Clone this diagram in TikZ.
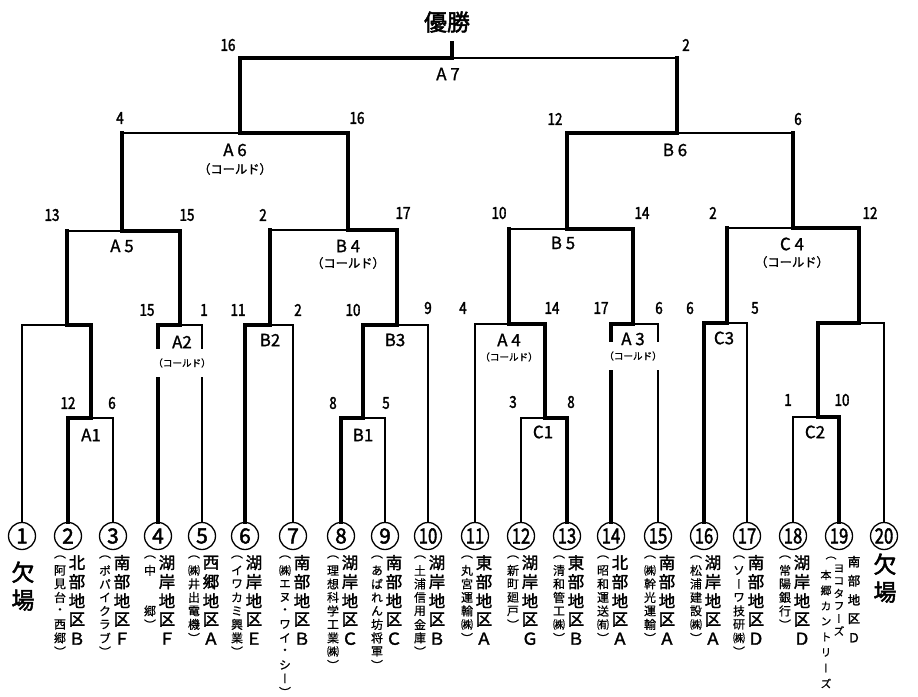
\documentclass[tikz,border=0pt]{standalone}
\usepackage{fontspec}
\usepackage{graphicx}
\setmainfont{Noto Sans CJK JP}
\newfontfamily\boldjp[FakeBold=2.2]{Noto Sans CJK JP}
\newfontfamily\medjp[FakeBold=1.2]{Noto Sans CJK JP}
\newfontfamily\numjp[FakeStretch=0.82,FakeBold=2]{Noto Sans CJK JP}
\newfontfamily\vjp[RawFeature=+vert,FakeBold=0.6]{Noto Sans CJK JP}
\newfontfamily\vjpb[RawFeature=+vert,FakeBold=1.8]{Noto Sans CJK JP}

% vertical text, one character per cell
\newdimen\cellh
\def\cellw{24bp}
\def\vstack#1{\vbox{\offinterlineskip\vstackdo#1\relax}}
\def\vstackdo#1{\ifx#1\relax\else
  \vbox to\cellh{\vss\hbox to\cellw{\hss#1\hss}\vss}\expandafter\vstackdo\fi}
\def\blank{\phantom{中}}
\newcommand\maincol[1]{\vjpb\fontsize{16.5}{19}\selectfont\cellh=19bp\relax
  \expandafter\vstack\expandafter{#1}}
\newcommand\subcol[1]{\vjp\fontsize{12}{14}\selectfont\cellh=13.5bp\relax
  \expandafter\vstack\expandafter{#1}}
% loser of a match that won the round before
\newcommand\lostat[2]{\draw[winline] (#1) -- (#1 |- #2);
  \draw[loseline] (#1 |- #2) -- (#2);}

\begin{document}
\begin{tikzpicture}[x=1bp, y=-1bp,
  winline/.style={line width=3.4bp, line cap=rect},
  loseline/.style={line width=1.2bp},
  leaf/.style={circle, draw, line width=1.3bp, minimum size=27bp, inner sep=0,
    font=\boldjp\fontsize{21}{21}\selectfont},
  score/.style={inner sep=0, font=\numjp\fontsize{16.5}{16.5}\selectfont},
  match/.style={inner sep=0, font=\medjp\fontsize{17}{17}\selectfont},
  cold/.style={inner sep=0, font=\medjp\fontsize{12.3}{12.3}\selectfont},
  coldsm/.style={fill=white, inner xsep=0, inner ysep=9bp, font=\medjp\fontsize{9.6}{9.6}\selectfont}]
  \useasboundingbox (0,0) rectangle (918,697);

  % Champion
  \node[inner sep=0, font=\boldjp\fontsize{23}{23}\selectfont] (champ) at (447,22) {優勝};
  \coordinate (win) at (452,43);

  % Teams
  \foreach \n/\x in {1/22,2/68,3/113,4/158,5/202,6/245,7/293,8/341,9/385,10/428,
      11/475,12/521,13/567,14/611,15/658,16/704,17/747,18/793,19/839,20/884}
    \node[leaf] (l\n) at (\x,536) {\ifnum\n>9 \scalebox{0.8}[1]{\n}\else\n\fi};

  % Match points
  \coordinate (A1) at (91,418);
  \coordinate (bye1) at (67,325);
  \coordinate (A2) at (180,325);
  \coordinate (A5) at (122,231);
  \coordinate (B1) at (363,418);
  \coordinate (B2) at (270,325);
  \coordinate (B3) at (397,325);
  \coordinate (B4) at (348,230);
  \coordinate (A6) at (240,133);
  \coordinate (C1) at (545,418);
  \coordinate (A4) at (509,324);
  \coordinate (A3) at (633,324);
  \coordinate (B5) at (567,229);
  \coordinate (C3) at (727,323);
  \coordinate (C2) at (818,417);
  \coordinate (bye2) at (859,323);
  \coordinate (C4) at (793,228);
  \coordinate (B6) at (677,133);
  \coordinate (A7) at (452,58);

  % First round
  \draw[winline] (l2) |- (A1);   \draw[loseline] (l3) |- (A1);
  \draw[winline] (l4) |- (A2);   \draw[loseline] (l5) |- (A2);
  \draw[winline] (l6) |- (B2);   \draw[loseline] (l7) |- (B2);
  \draw[winline] (l8) |- (B1);   \draw[loseline] (l9) |- (B1);
  \draw[loseline] (l12) |- (C1); \draw[winline] (l13) |- (C1);
  \draw[winline] (l14) |- (A3);  \draw[loseline] (l15) |- (A3);
  \draw[winline] (l16) |- (C3);  \draw[loseline] (l17) |- (C3);
  \draw[loseline] (l18) |- (C2); \draw[winline] (l19) |- (C2);

  % Second round
  \draw[loseline] (l1) |- (bye1);  \draw[winline] (A1) |- (bye1);
  \draw[loseline] (l20) |- (bye2); \draw[winline] (C2) |- (bye2);
  \draw[winline] (B1) |- (B3);     \draw[loseline] (l10) |- (B3);
  \draw[loseline] (l11) |- (A4);   \draw[winline] (C1) |- (A4);

  % Later rounds
  \lostat{bye1}{A5} \draw[winline] (A2) |- (A5);
  \lostat{B2}{B4}   \draw[winline] (B3) |- (B4);
  \lostat{A4}{B5}   \draw[winline] (A3) |- (B5);
  \lostat{C3}{C4}   \draw[winline] (bye2) |- (C4);
  \lostat{A5}{A6}   \draw[winline] (B4) |- (A6);
  \lostat{C4}{B6}   \draw[winline] (B5) |- (B6);
  \lostat{B6}{A7}   \draw[winline] (A6) |- (A7);
  \draw[winline] (A7) -- (win);

  % Scores
  \foreach \x/\y/\s [count=\i] in {228/45/16, 686/45/2,
      120/118/4, 357/118/16, 555/119/12, 798/119/6,
      52/215/13, 187/215/15, 263/215/2, 403/213/17, 499/213/10, 642/213/14, 713/213/2, 870/213/12,
      147/310/15, 204/310/1, 238/310/11, 298/310/2, 353/310/10, 428/308/9, 463/308/4, 552/308/14,
      601/308/17, 659/308/6, 690/308/6, 755/308/5,
      68/403/12, 112/403/6, 333/403/8, 386/403/5, 513/402/3, 571/402/8, 788/400/1, 842/400/10}
    \node[score] (sc\i) at (\x,\y) {\s};

  % Called games
  \node[cold] (cA6) at (235,169) {（コールド）};
  \node[cold] (cB4) at (348,263) {（コールド）};
  \node[cold] (cC4) at (792,262) {（コールド）};
  \node[coldsm] (cA2) at (182,363) {（コールド）};
  \node[coldsm] (cA4) at (509,357) {（コールド）};
  \node[coldsm] (cA3) at (633,356) {（コールド）};

  % Match labels
  \foreach \nm/\x/\y/\t in {A7/448/74/A 7, A6/235/150/A 6, B6/675/150/B 6,
      A5/122/246/A 5, B4/348/246/B 4, B5/563/243/B 5, C4/792/244/C 4,
      A2/182/342/A2, B2/270/340/B2, B3/395/340/B3, A4/509/340/A 4, A3/633/339/A 3,
      C3/724/338/C3, A1/91/435/A1, B1/363/435/B1, C1/543/432/C1, C2/815/432/C2}
    \node[match] (lb\nm) at (\x,\y) {\t};

  % Team names
  \foreach \n/\x/\mtext/\stext in {2/68/北部地区Ｂ/（阿見台・西郷）,
      3/113/南部地区Ｆ/（ポパイクラブ）,
      4/158/湖岸地区Ｆ/（中\blank\blank 郷）,
      5/202/西郷地区Ａ/（㈱井出電機）,
      6/245/湖岸地区Ｅ/（イワカミ興業）,
      7/293/南部地区Ｂ/（㈱エヌ・ワイ・シー）,
      8/341/湖岸地区Ｃ/（理想科学工業㈱）,
      9/385/南部地区Ｃ/（あばれん坊将軍）,
      10/428/湖岸地区Ｂ/（土浦信用金庫）,
      11/475/東部地区Ａ/（丸宮運輸㈱）,
      12/521/湖岸地区Ｇ/（新町廻戸）,
      13/567/東部地区Ｂ/（清和管工㈱）,
      14/611/北部地区Ａ/（昭和運送㈲）,
      15/658/南部地区Ａ/（㈱幹光運輸）,
      16/704/湖岸地区Ａ/（松浦建設㈱）,
      17/747/南部地区Ｄ/（ソーワ技研㈱）,
      18/793/湖岸地区Ｄ/（常陽銀行）} {
    \node[anchor=north, inner sep=0] (nm\n) at (\x+9,553) {\maincol{\mtext}};
    \node[anchor=north, inner sep=0] (sp\n) at (\x-8,550) {\subcol{\stext}};
  }
  \node[anchor=north, inner sep=0] (nm1) at (23,558)
    {\boldjp\fontsize{23}{23}\selectfont\cellh=28bp\relax\vstack{欠場}};
  \node[anchor=north, inner sep=0] (nm20) at (885,550)
    {\boldjp\fontsize{23}{23}\selectfont\cellh=28bp\relax\vstack{欠場}};
  \node[anchor=north, inner sep=0] (nm19) at (854,552)
    {\def\cellw{12bp}\vjpb\fontsize{12.5}{14}\selectfont\cellh=19bp\relax\vstack{南部地区Ｄ}};
  \node[inner sep=0] (pa19) at (831,558) {\vjp\fontsize{11}{11}\selectfont （};
  \node[anchor=north, inner sep=0] (sp19) at (839,562)
    {\def\cellw{12bp}\vjp\fontsize{11}{13}\selectfont\cellh=12.5bp\relax\vstack{ヨコタフーズ}};
  \node[anchor=north, inner sep=0] (sq19) at (826,567)
    {\def\cellw{12bp}\vjp\fontsize{11}{13}\selectfont\cellh=15.5bp\relax\vstack{本郷カントリーズ}};
\end{tikzpicture}
\end{document}
